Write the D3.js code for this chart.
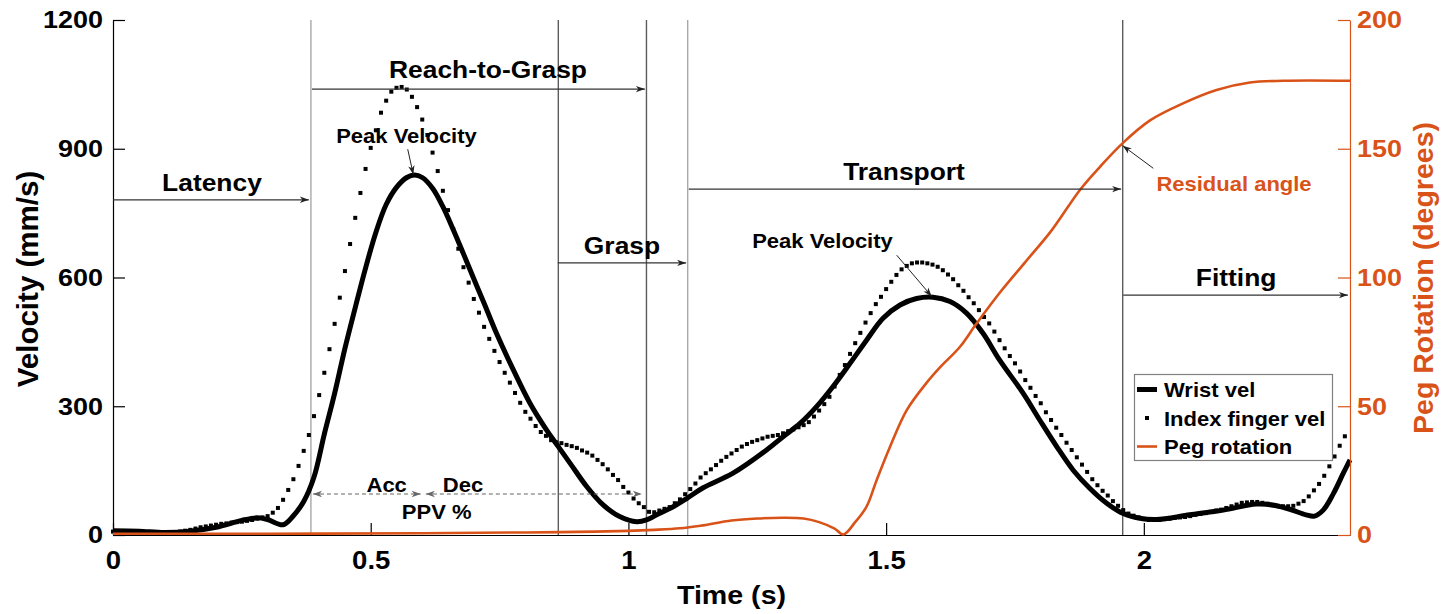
<!DOCTYPE html>
<html>
<head>
<meta charset="utf-8">
<script src="https://cdn.jsdelivr.net/npm/d3@7"></script>
<style>
  html, body { margin: 0; padding: 0; background: #fff; }
  svg { display: block; font-family: "Liberation Sans", Arial, Helvetica, sans-serif; font-weight: bold; }
</style>
</head>
<body>
<svg id="chart" width="1449" height="614"></svg>
<script>
// ---- data ----
const timeTicks = [0, 0.5, 1, 1.5, 2];
const velTicks = [0, 300, 600, 900, 1200];
const pegTicks = [0, 50, 100, 150, 200];

// wrist velocity (mm/s)
const wristTime = [0, 0.05, 0.10, 0.15, 0.20, 0.25, 0.28, 0.30, 0.33, 0.35, 0.37, 0.39, 0.41, 0.43, 0.45,
  0.47, 0.49, 0.51, 0.53, 0.55, 0.57, 0.585, 0.60, 0.62, 0.64, 0.66, 0.68, 0.70, 0.72, 0.744, 0.777,
  0.809, 0.841, 0.864, 0.887, 0.919, 0.951, 0.983, 1.016, 1.035, 1.055, 1.081, 1.113, 1.145, 1.203,
  1.268, 1.30, 1.333, 1.365, 1.397, 1.43, 1.462, 1.494, 1.527, 1.559, 1.591, 1.624, 1.656, 1.688,
  1.72, 1.766, 1.798, 1.831, 1.863, 1.895, 1.928, 1.96, 1.992, 2.024, 2.089, 2.154, 2.218, 2.25,
  2.283, 2.315, 2.331, 2.348, 2.368, 2.387, 2.4];
const wristVel = [10, 9, 6, 9, 18, 34, 40, 36, 24, 45, 78, 135, 235, 330, 435,
  530, 622, 705, 770, 810, 833, 839, 833, 808, 765, 712, 655, 597, 540, 470, 384,
  307, 245, 206, 167, 113, 70, 43, 31, 35, 47, 62, 85, 110, 144,
  198, 229, 260, 299, 346, 400, 454, 505, 536, 551, 554, 544, 517, 470,
  408, 330, 268, 206, 151, 109, 74, 50, 39, 36, 47, 58, 72, 70,
  60, 47, 44, 58, 97, 144, 175];

// index finger velocity (mm/s), one sample every 10 ms from t = 0
const fingerRate = 100;
const fingerVel = [
  8, 8, 7, 7, 6, 6, 5, 5, 5, 5,
  5, 5, 6, 8, 10, 12, 15, 18, 20, 22,
  24, 26, 27, 29, 30, 31, 33, 35, 38, 41,
  44, 52, 63, 82, 105, 130, 161, 196, 233, 277,
  326, 378, 433, 492, 553, 615, 678, 739, 797, 853,
  902, 943, 984, 1012, 1033, 1042, 1044, 1038, 1021, 997,
  968, 932, 891, 848, 802, 757, 713, 667, 624, 588,
  550, 518, 485, 457, 429, 403, 378, 355, 331, 308,
  287, 271, 254, 240, 231, 221, 216, 214, 210, 207,
  203, 197, 192, 185, 175, 165, 153, 140, 128, 112,
  99, 85, 74, 65, 54, 53, 57, 61, 65, 74,
  83, 95, 107, 120, 134, 144, 153, 163, 173, 182,
  190, 198, 206, 212, 217, 221, 225, 229, 231, 233,
  237, 242, 246, 251, 256, 263, 276, 290, 305, 322,
  346, 373, 396, 422, 447, 471, 495, 517, 538, 555,
  573, 590, 606, 619, 627, 633, 635, 635, 633, 630,
  625, 617, 607, 596, 582, 569, 554, 540, 524, 508,
  493, 474, 454, 435, 417, 400, 381, 361, 343, 324,
  307, 286, 268, 250, 233, 215, 198, 181, 164, 147,
  130, 116, 103, 92, 79, 68, 58, 50, 45, 41,
  37, 35, 35, 35, 37, 38, 40, 41, 42, 44,
  47, 49, 51, 54, 57, 59, 63, 67, 71, 75,
  76, 77, 77, 75, 73, 69, 68, 67, 67, 68,
  73, 79, 90, 104, 119, 138, 160, 183, 208, 230];

// peg rotation (degrees, right axis)
const pegTime = [0, 0.30, 0.60, 0.80, 0.90, 1.00, 1.05, 1.10, 1.14, 1.20, 1.25, 1.30, 1.34, 1.37, 1.40,
  1.417, 1.44, 1.462, 1.481, 1.507, 1.54, 1.578, 1.604, 1.643, 1.675, 1.72, 1.77, 1.82, 1.876,
  1.915, 1.958, 2.012, 2.076, 2.141, 2.206, 2.27, 2.4];
const pegDeg = [0.5, 0.5, 0.7, 1.0, 1.2, 1.6, 2.0, 2.6, 3.6, 5.6, 6.4, 6.7, 6.4, 5.0, 2.5,
  0.2, 5, 11, 21, 34, 48.5, 59, 65, 73, 82, 94, 106, 118, 134,
  143, 152, 161, 167.6, 172.8, 175.7, 176.4, 176.4];

// movement events (s)
const eventTimes = [0.384, 0.864, 1.035, 1.115, 1.959];

// phase arrows: start, end, height (mm/s); label centre and baseline
const phaseNames = ['Latency', 'Reach-to-Grasp', 'Grasp', 'Transport', 'Fitting'];
const phaseFrom = [0, 0.386, 0.863, 1.117, 1.96];
const phaseTo = [0.380, 1.032, 1.112, 1.956, 2.396];
const phaseLevel = [781, 1039, 634, 806, 559];
const phaseLabelT = [0.192, 0.7275, 0.9875, 1.5347, 2.179];
const phaseLabelV = [802, 1065, 655, 827, 580];

const legendNames = ['Wrist vel', 'Index finger vel', 'Peg rotation'];

// ---- drawing ----
const ORANGE = '#d95319';
const SX = 1.1;   // the original glyphs are a bit wider than Liberation Sans Bold

const svg = d3.select('#chart');
const x = d3.scaleLinear().domain([0, 2.4]).range([113, 1350]);
const yV = d3.scaleLinear().domain([0, 1200]).range([535, 20]);
const yP = d3.scaleLinear().domain([0, 200]).range([535, 20]);

const defs = svg.append('defs');
function marker(id, color) {
  defs.append('marker')
    .attr('id', id)
    .attr('viewBox', '-10 -5 12 10')
    .attr('refX', 0).attr('refY', 0)
    .attr('markerWidth', 12).attr('markerHeight', 10)
    .attr('markerUnits', 'userSpaceOnUse')
    .attr('orient', 'auto-start-reverse')
    .append('path')
    .attr('d', 'M0,0 L-9,-3.2 L-6.5,0 L-9,3.2 Z')
    .attr('fill', color);
}
marker('head', '#222');
marker('headGrey', '#666');

function addText(g, px, py, str, size, fill, anchor = 'middle') {
  return g.append('text')
    .attr('transform', `translate(${px},${py}) scale(${SX},1)`)
    .attr('text-anchor', anchor)
    .attr('font-size', size)
    .attr('fill', fill)
    .text(str);
}

// event lines
svg.append('g').selectAll('line')
  .data(eventTimes)
  .join('line')
  .attr('x1', d => x(d)).attr('x2', d => x(d))
  .attr('y1', yV(0)).attr('y2', yV(1200))
  .attr('stroke', (d, i) => (i === 0 || i === 3) ? '#a8a8a8' : '#5c5c5c')
  .attr('stroke-width', 1.4);

// axes
function styleAxis(g, color, size) {
  g.attr('font-family', null).attr('font-size', size).attr('font-weight', 'bold');
  g.select('.domain').attr('stroke', color).attr('stroke-width', 1.2);
  g.selectAll('.tick line').attr('stroke', color).attr('stroke-width', 1.2);
  g.selectAll('.tick text').attr('fill', color);
}

const gx = svg.append('g')
  .attr('transform', `translate(0,${yV(0)})`)
  .call(d3.axisBottom(x).tickValues(timeTicks).tickFormat(d3.format('~g'))
    .tickSizeInner(-12).tickSizeOuter(0).tickPadding(16));
styleAxis(gx, '#000', 25);
gx.selectAll('.tick text').attr('transform', `scale(${SX},1)`);

const gy = svg.append('g')
  .attr('transform', `translate(${x(0)},0)`)
  .call(d3.axisLeft(yV).tickValues(velTicks).tickFormat(d3.format('d'))
    .tickSizeInner(-12).tickSizeOuter(0).tickPadding(10));
styleAxis(gy, '#000', 24.5);
gy.selectAll('.tick text').attr('x', -10 / SX).attr('transform', `scale(${SX},1)`);

// curves
const wristLine = d3.line().x(d => x(d[0])).y(d => yV(d[1])).curve(d3.curveCatmullRom.alpha(0.5));
svg.append('path')
  .datum(d3.zip(wristTime, wristVel))
  .attr('d', wristLine)
  .attr('fill', 'none')
  .attr('stroke', '#000')
  .attr('stroke-width', 5)
  .attr('stroke-linejoin', 'round');

svg.append('g').selectAll('rect')
  .data(fingerVel)
  .join('rect')
  .attr('x', (d, i) => x(i / fingerRate) - 2)
  .attr('y', d => yV(d) - 2)
  .attr('width', 4).attr('height', 4)
  .attr('fill', '#000');

const pegLine = d3.line().x(d => x(d[0])).y(d => yP(d[1])).curve(d3.curveCatmullRom.alpha(0.5));
svg.append('path')
  .datum(d3.zip(pegTime, pegDeg))
  .attr('d', pegLine)
  .attr('fill', 'none')
  .attr('stroke', ORANGE)
  .attr('stroke-width', 2.6);

const gr = svg.append('g')
  .attr('transform', `translate(${x(2.4)},0)`)
  .call(d3.axisRight(yP).tickValues(pegTicks).tickSizeInner(-12).tickSizeOuter(0).tickPadding(7));
styleAxis(gr, ORANGE, 24.5);
gr.selectAll('.tick text').attr('x', 7 / SX).attr('transform', `scale(${SX},1)`);

// axis titles
addText(svg, x(1.2), 604, 'Time (s)', 26, '#000');
svg.append('text')
  .attr('transform', `translate(38,279) rotate(-90)`)
  .attr('text-anchor', 'middle').attr('font-size', 29.5).attr('fill', '#000')
  .text('Velocity (mm/s)');
svg.append('text')
  .attr('transform', `translate(1433,278) rotate(-90)`)
  .attr('text-anchor', 'middle').attr('font-size', 28.5).attr('fill', ORANGE)
  .text('Peg Rotation (degrees)');

// phase arrows
const ann = svg.append('g');
phaseNames.forEach((name, i) => {
  ann.append('line')
    .attr('x1', x(phaseFrom[i])).attr('x2', x(phaseTo[i]))
    .attr('y1', yV(phaseLevel[i])).attr('y2', yV(phaseLevel[i]))
    .attr('stroke', '#333').attr('stroke-width', 1.2)
    .attr('marker-end', 'url(#head)');
  addText(ann, x(phaseLabelT[i]), yV(phaseLabelV[i]), name, 24, '#000');
});

// acceleration / deceleration split of the reach
[[0.388, 0.597], [0.607, 1.026]].forEach(([a, b]) => {
  ann.append('line')
    .attr('x1', x(a)).attr('x2', x(b))
    .attr('y1', yV(95.5)).attr('y2', yV(95.5))
    .attr('stroke', '#666').attr('stroke-width', 1.1)
    .attr('stroke-dasharray', '4,3')
    .attr('marker-start', 'url(#headGrey)')
    .attr('marker-end', 'url(#headGrey)');
});
addText(ann, x(0.531), yV(101), 'Acc', 20, '#000');
addText(ann, x(0.679), yV(101), 'Dec', 20, '#000');
addText(ann, x(0.628), yV(37), 'PPV %', 20, '#000');

// peak velocity call-outs
addText(ann, x(0.5694), yV(913), 'Peak Velocity', 20, '#000');
ann.append('line')
  .attr('x1', x(0.5718)).attr('y1', yV(899))
  .attr('x2', x(0.5826)).attr('y2', yV(840))
  .attr('stroke', '#222').attr('stroke-width', 1)
  .attr('marker-end', 'url(#head)');
addText(ann, x(1.3765), yV(669), 'Peak Velocity', 20, '#000');
ann.append('line')
  .attr('x1', x(1.5205)).attr('y1', yV(652))
  .attr('x2', x(1.5884)).attr('y2', yV(556))
  .attr('stroke', '#222').attr('stroke-width', 1)
  .attr('marker-end', 'url(#head)');

// residual angle
addText(ann, x(2.1749), yP(133.7), 'Residual angle', 20, ORANGE);
ann.append('line')
  .attr('x1', x(2.0184)).attr('y1', yP(142.4))
  .attr('x2', x(1.959)).attr('y2', yP(151.2))
  .attr('stroke', '#222').attr('stroke-width', 1)
  .attr('marker-end', 'url(#head)');

// legend
const lg = svg.append('g');
lg.append('rect')
  .attr('x', 1134.5).attr('y', 374.5).attr('width', 198).attr('height', 86)
  .attr('fill', '#fff').attr('stroke', '#808080').attr('stroke-width', 1.2);
legendNames.forEach((name, i) => {
  const base = 397 + i * 28.5;
  const cy = base - 7.5;
  if (i === 0) {
    lg.append('line').attr('x1', 1137).attr('x2', 1157).attr('y1', cy).attr('y2', cy)
      .attr('stroke', '#000').attr('stroke-width', 5);
  } else if (i === 1) {
    lg.append('rect').attr('x', 1145).attr('y', cy - 2).attr('width', 4).attr('height', 4).attr('fill', '#000');
  } else {
    lg.append('line').attr('x1', 1137).attr('x2', 1157).attr('y1', cy).attr('y2', cy)
      .attr('stroke', ORANGE).attr('stroke-width', 2.6);
  }
  addText(lg, 1164, base, name, 20, '#000', 'start');
});
</script>
</body>
</html>
